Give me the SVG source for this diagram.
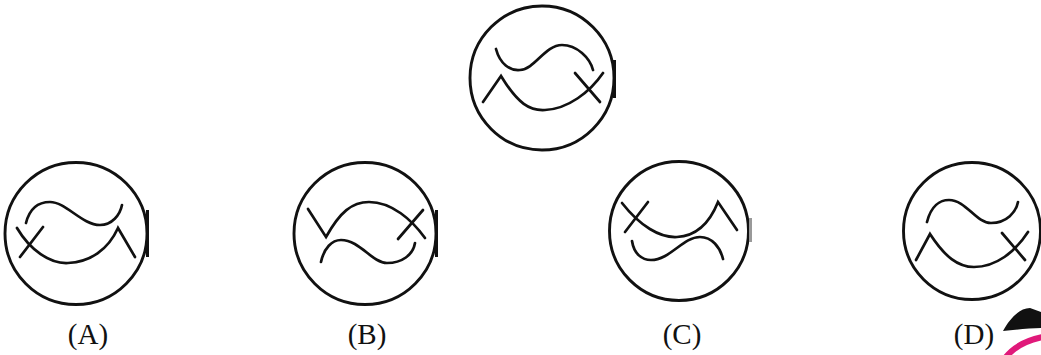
<svg xmlns="http://www.w3.org/2000/svg" width="1041" height="355" viewBox="0 0 1041 355">
<style>
.c{fill:none;stroke:#111;stroke-width:2.9}
.l{fill:none;stroke:#111;stroke-width:2.7;stroke-linecap:round;stroke-linejoin:miter}
.t{fill:none;stroke:#111;stroke-width:3}
.lab{font-family:"Liberation Serif","Times New Roman",serif;font-size:29px;fill:#111;text-anchor:middle}
</style>
<rect width="1041" height="355" fill="#fff"/>
<g id="top">
<circle class="c" cx="542" cy="78" r="72"/>
<line class="t" x1="614.5" y1="60" x2="614.5" y2="98"/>
<path class="l" d="M496,49 C500,64 510,71 520,70 C535,69 545,45 562,45 C577,45 590,58 593,70"/>
<path class="l" d="M483,102 L501,76 C518,104 530,111 545,110 C568,109 590,92 603,73"/>
<line class="l" x1="575" y1="73" x2="600" y2="102"/>
</g>
<g id="optA">
<circle class="c" cx="76" cy="233.5" r="71"/>
<line class="t" x1="147.5" y1="210" x2="147.5" y2="257"/>
<path class="l" d="M26,223 C30,207 40,202 50,202 C66,202 82,225 100,225 C112,225 120,215 122,205"/>
<path class="l" d="M17,228 C30,250 50,264 68,263 C90,262 108,250 118,228 L135,257"/>
<line class="l" x1="43" y1="227" x2="20" y2="257"/>
<text class="lab" x="88" y="344">(A)</text>
</g>
<g id="optB">
<circle class="c" cx="365" cy="233.5" r="71"/>
<line class="t" x1="436.5" y1="210" x2="436.5" y2="257"/>
<path class="l" d="M308,209 L326,237 C340,212 352,202 369,202 C392,202 412,220 425,238"/>
<line class="l" x1="423" y1="210" x2="398" y2="239"/>
<path class="l" d="M321,262 C324,248 332,240 341,240 C360,240 372,263 387,263 C402,263 413,255 415,243"/>
<text class="lab" x="367" y="344">(B)</text>
</g>
<g id="optC">
<circle class="c" cx="679" cy="231" r="69.5"/>
<line x1="750.5" y1="218" x2="750.5" y2="242" stroke="#999" stroke-width="3"/>
<path class="l" d="M622,203 C640,226 660,238 677,237 C697,236 710,222 718,202 L737,230"/>
<line class="l" x1="648" y1="202" x2="625" y2="232"/>
<path class="l" d="M632,241 C634,254 642,260 651,260 C670,260 683,237 700,237 C712,237 720,247 723,259"/>
<text class="lab" x="682" y="344">(C)</text>
</g>
<g id="optD">
<circle class="c" cx="972" cy="231" r="68.5"/>
<path class="l" d="M927,222 C931,206 940,200 949,200 C966,200 976,223 991,223 C1007,223 1016,212 1018,202"/>
<path class="l" d="M916,260 L930,234 C945,257 958,267 974,267 C996,267 1015,252 1028,232"/>
<line class="l" x1="1002" y1="233" x2="1025" y2="260"/>
<text class="lab" x="974" y="344">(D)</text>
</g>
<g id="logo">
<path d="M1003,331 C1010,318 1020,308 1030,308 L1041,312 L1041,328 C1030,328 1015,330 1003,331 Z" fill="#111"/>
<path d="M1006,357 Q1018,342 1043,337" fill="none" stroke="#e0197a" stroke-width="6"/>
</g>
<g id="connectors"/>
</svg>
